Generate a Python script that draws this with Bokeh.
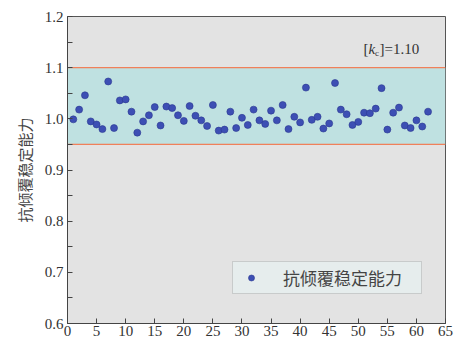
import math
from bokeh.plotting import figure
from bokeh.models import (ColumnDataSource, FixedTicker, Label, Range1d, Legend, LegendItem,
                          PrintfTickFormatter)
from bokeh.embed import file_html
from bokeh.resources import INLINE

# ---- data ----
sample_no = list(range(1, 63))
kc_values = [0.999, 1.018, 1.046, 0.995, 0.989, 0.980, 1.073, 0.982, 1.036, 1.038,
             1.014, 0.973, 0.995, 1.007, 1.023, 0.987, 1.024, 1.021, 1.007, 0.996,
             1.025, 1.006, 0.997, 0.986, 1.027, 0.977, 0.979, 1.014, 0.982, 1.002,
             0.988, 1.018, 0.997, 0.990, 1.016, 0.997, 1.027, 0.980, 1.004, 0.993,
             1.061, 0.998, 1.004, 0.981, 0.991, 1.070, 1.018, 1.009, 0.988, 0.994,
             1.012, 1.011, 1.020, 1.060, 0.979, 1.012, 1.022, 0.987, 0.982, 0.997,
             0.985, 1.014]
band_x = [0, 65]
band_lower = [0.95, 0.95]
band_upper = [1.10, 1.10]
x_ticks = [0, 5, 10, 15, 20, 25, 30, 35, 40, 45, 50, 55, 60, 65]
y_ticks = [0.6, 0.7, 0.8, 0.9, 1.0, 1.1, 1.2]
y_minor_ticks = [0.65, 0.75, 0.85, 0.95, 1.05, 1.15]
series_name = "抗倾覆稳定能力"
y_label = "抗倾覆稳定能力"
limit_text = "=1.10"

SERIF = "Liberation Serif"
CJK = "Noto Sans CJK SC"

p = figure(width=460, height=347, output_backend="svg", toolbar_location=None,
           x_range=Range1d(0, 65), y_range=Range1d(0.6, 1.2),
           min_border_left=67, min_border_right=15, min_border_top=16, min_border_bottom=24)
p.background_fill_color = "#e3e3e3"
p.border_fill_color = "white"
p.outline_line_color = "#555555"
p.outline_line_width = 1
p.grid.visible = False

# band
src_band = ColumnDataSource(dict(x=band_x, lo=band_lower, hi=band_upper))
p.varea(x="x", y1="lo", y2="hi", source=src_band, fill_color="#bfe1e1")
p.line(x="x", y="lo", source=src_band, line_color="#f0805a", line_width=1.3)
p.line(x="x", y="hi", source=src_band, line_color="#f0805a", line_width=1.3)

src = ColumnDataSource(dict(x=sample_no, y=kc_values))
r = p.scatter(x="x", y="y", source=src, size=7, fill_color="#3d4fb4",
              line_color="#2a3890", line_width=0.6)

# axes
for ax in (p.xaxis[0], p.yaxis[0]):
    ax.axis_line_color = "#444444"
    ax.major_tick_line_color = "#444444"
    ax.minor_tick_line_color = "#444444"
    ax.major_tick_in = 5
    ax.major_tick_out = 0
    ax.major_label_text_font = SERIF
    ax.major_label_text_font_size = "15px"
    ax.major_label_text_color = "#333333"

p.xaxis.ticker = FixedTicker(ticks=x_ticks)
p.xaxis.minor_tick_in = 0
p.xaxis.minor_tick_out = 0
p.xaxis.major_label_standoff = 2

p.yaxis.ticker = FixedTicker(ticks=y_ticks, minor_ticks=y_minor_ticks)
p.yaxis.formatter = PrintfTickFormatter(format="%.1f")
p.yaxis.minor_tick_in = 5
p.yaxis.minor_tick_out = 0
p.yaxis.major_label_standoff = 4
p.yaxis.axis_label = y_label
p.yaxis.axis_label_text_font = CJK
p.yaxis.axis_label_text_font_style = "normal"
p.yaxis.axis_label_text_font_size = "15px"
p.yaxis.axis_label_text_color = "#444444"
p.yaxis.axis_label_standoff = 7

# k_c pieces of axis label
p.add_layout(Label(x=-6.6, y=1.021, text="k", angle=math.pi / 2, text_font=SERIF,
                   text_font_style="italic", text_font_size="16px", text_color="#444444",
                   text_align="center", text_baseline="middle"))
p.add_layout(Label(x=-6.0, y=1.036, text="c", angle=math.pi / 2, text_font=SERIF,
                   text_font_size="10px", text_color="#444444",
                   text_align="center", text_baseline="middle"))

# [k_c]=1.10 annotation
ann_x, ann_y = 50.9, 1.137
p.add_layout(Label(x=ann_x, y=ann_y, text="[", text_font=SERIF, text_font_size="15px",
                   text_color="#333333", text_baseline="middle"))
p.add_layout(Label(x=ann_x, y=ann_y, x_offset=5, text="k", text_font=SERIF,
                   text_font_style="italic", text_font_size="15px",
                   text_color="#333333", text_baseline="middle"))
p.add_layout(Label(x=ann_x, y=ann_y, x_offset=11.5, y_offset=-4, text="c", text_font=SERIF,
                   text_font_size="9px", text_color="#333333", text_baseline="middle"))
p.add_layout(Label(x=ann_x, y=ann_y, x_offset=16, text="]" + limit_text, text_font=SERIF,
                   text_font_size="15px", text_color="#333333", text_baseline="middle"))

legend = Legend(items=[LegendItem(label=series_name, renderers=[r])],
                location=(165, 29))
legend.label_text_font = CJK
legend.label_text_font_size = "17px"
legend.label_text_color = "#444444"
legend.background_fill_color = "#e6eded"
legend.background_fill_alpha = 1
legend.border_line_color = "#aaaaaa"
legend.border_line_width = 1
legend.glyph_width = 30
legend.glyph_height = 15
legend.label_standoff = 17
legend.label_width = 135
legend.label_height = 17
legend.padding = 3
legend.margin = 0
p.add_layout(legend)

open("out.html", "w").write(file_html(p, INLINE))
